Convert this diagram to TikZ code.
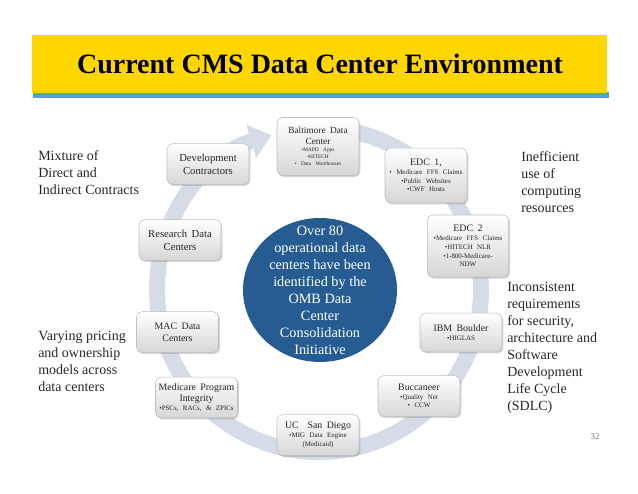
\documentclass[tikz,border=0pt]{standalone}
\usepackage{fontspec}
\setmainfont{Liberation Serif}
\usepackage{tikz}
\usetikzlibrary{arrows.meta,shadows,shapes.geometric}
\definecolor{bandyellow}{RGB}{255,214,0}
\definecolor{bandblue}{RGB}{91,155,213}
\definecolor{ringblue}{RGB}{213,220,232}
\definecolor{coreblue}{RGB}{38,92,145}
\newcommand{\boxhead}{\fontsize{7.4}{8.8}\selectfont}
\newcommand{\boxlist}{\fontsize{5.2}{6.6}\selectfont}
\begin{document}
\begin{tikzpicture}[x=0.75pt, y=0.75pt,
	dcbox/.style={draw=black!25, rounded corners=4pt, top color=white, bottom color=black!16, drop shadow={opacity=0.35, shadow xshift=1pt, shadow yshift=-1.2pt}, minimum width=61.5pt, minimum height=30.5pt, text width=58pt, inner sep=1.5pt, text=black!85},
	side/.style={anchor=north west, inner sep=0pt, align=left, font=\fontsize{10.5}{12.75}\selectfont, text=black!85}]
				\useasboundingbox (0,0) rectangle (638,493);
				\fill[bandblue] (33,395) rectangle (609,401);
				\fill[bandyellow] (32,400) rectangle (607,458);
				\node (Title)at(320, 429) {\fontsize{21}{24}\selectfont\bfseries Current CMS Data Center Environment};
				\draw[ringblue, line width=12pt, -{Triangle[width=25pt, length=16pt]}] (319,203) ++(95:162) arc[start angle=95, end angle=-253, radius=162];
				\node[ellipse, fill=coreblue, minimum width=115.5pt, minimum height=108pt, inner sep=0pt] (Core)at(320, 203) {};
				\node[align=center, text=white, font=\fontsize{10.7}{12.75}\selectfont] (CoreText)at(Core) {Over 80\\operational data\\centers have been\\identified by the\\OMB Data\\Center\\Consolidation\\Initiative};
				\node[dcbox] (Dev)at(208, 329) {\centering\fontsize{8}{9.6}\selectfont Development\\Contractors\par};
				\node[dcbox, minimum height=43.5pt] (Balt)at(318, 346.5) {\centering\fontsize{7}{8}\selectfont Baltimore Data\\Center\par\fontsize{4}{5.4}\selectfont •MAPD Apps\\•HITECH\\• Data Warehouses\par};
				\node[dcbox, minimum height=41pt] (EDC1)at(426, 317.5) {\centering\boxhead EDC 1,\par\boxlist • Medicare FFS Claims\\•Public Websites\\•CWF Hosts\par};
				\node[dcbox, minimum width=60pt, minimum height=46.5pt] (EDC2)at(468, 247) {\centering\boxhead EDC 2\par\boxlist •Medicare FFS Claims\\•HITECH NLR\\•1-800-Medicare-\\NDW\par};
				\node[dcbox, minimum height=29pt] (IBM)at(461, 160.5) {\centering\boxhead IBM Boulder\par\boxlist •HIGLAS\par};
				\node[dcbox] (Bucc)at(419, 97) {\centering\boxhead Buccaneer\par\boxlist •Quality Net\\• CCW\par};
				\node[dcbox] (UCSD)at(318, 58) {\centering\boxhead UC\ \ San Diego\par\boxlist •MIG Data Engine\\(Medicaid)\par};
				\node[dcbox] (MPI)at(196.5, 95.5) {\centering\boxhead Medicare Program\\Integrity\par\boxlist •PSCs, RACs, \& ZPICs\par};
				\node[dcbox] (MAC)at(177.5, 161) {\centering\boxhead MAC Data\\Centers\par};
				\node[dcbox] (RDC)at(180, 253) {\centering\fontsize{8}{9.6}\selectfont Research Data\\Centers\par};
				\node[side] (Mix)at(38, 342.5) {Mixture of\\Direct and\\Indirect Contracts};
				\node[side] (Vary)at(38, 162.5) {Varying pricing\\and ownership\\models across\\data centers};
				\node[side] (Ineff)at(521, 341.5) {Inefficient\\use of\\computing\\resources};
				\node[side] (Incons)at(507, 211.5) {Inconsistent\\requirements\\for security,\\architecture and\\Software\\Development\\Life Cycle\\(SDLC)};
				\node[text=black!55, font=\fontsize{6.5}{8}\selectfont] (Page)at(595, 56) {32};
			\end{tikzpicture}
\end{document}
